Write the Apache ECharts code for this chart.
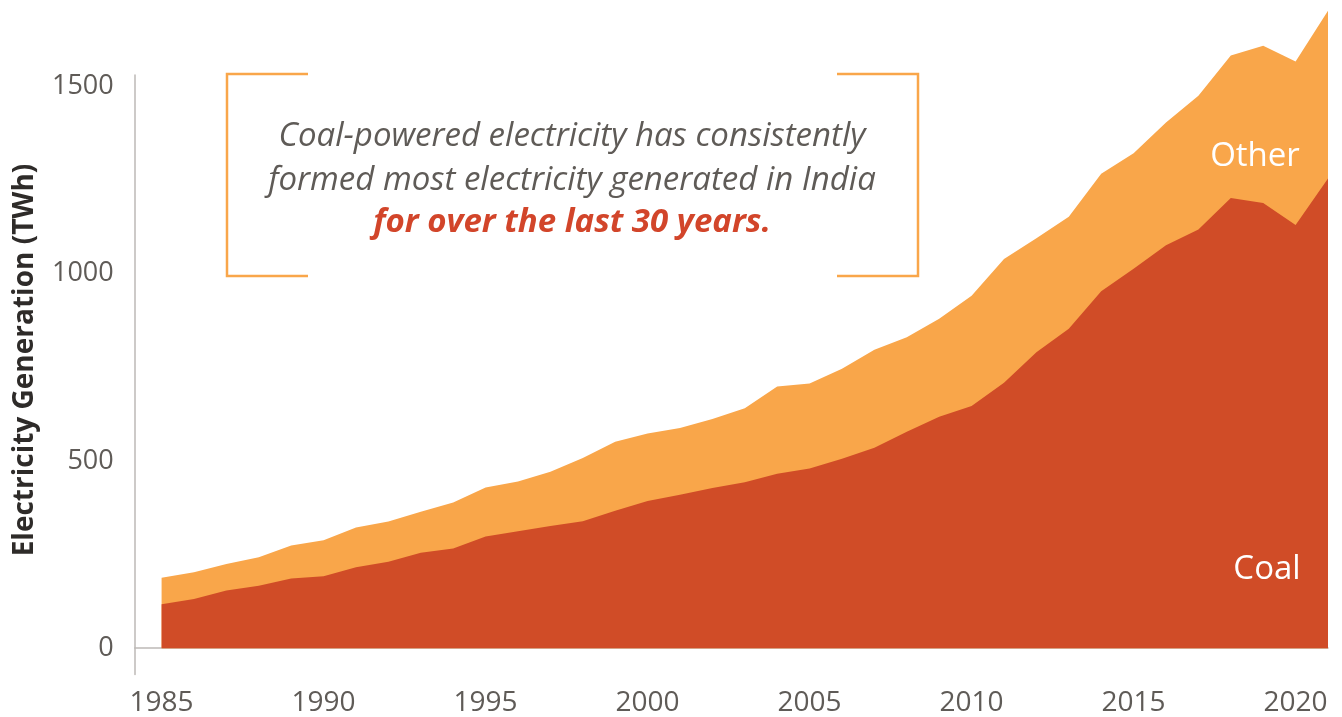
<!DOCTYPE html>
<html>
<head>
<meta charset="utf-8">
<script src="https://cdn.jsdelivr.net/npm/echarts@6/dist/echarts.min.js"></script>
<style>html,body{margin:0;padding:0;background:#fff}#c{width:1342px;height:717px}</style>
</head>
<body>
<div id="c"></div>
<script>
const years = [1985,1986,1987,1988,1989,1990,1991,1992,1993,1994,1995,1996,1997,1998,1999,2000,2001,2002,2003,2004,2005,2006,2007,2008,2009,2010,2011,2012,2013,2014,2015,2016,2017,2018,2019,2020,2021];
const coal = [117,131,154,167,186,192,216,231,255,266,298,312,326,339,367,393,410,428,443,466,480,506,535,578,618,647,709,790,853,953,1013,1076,1118,1202,1189,1130,1254];
const other = [71,72,71,76,88,96,106,107,109,123,131,133,145,169,184,180,178,184,198,233,227,240,262,252,262,294,330,305,299,314,309,328,357,381,420,437,448];
const yTicks = [0,500,1000,1500];
const xTicks = [1985,1990,1995,2000,2005,2010,2015,2020];
const seriesNames = ['Coal','Other'];
const axisTitle = 'Electricity Generation (TWh)';
const noteLines = ['Coal-powered electricity has consistently','formed most electricity generated in India','for over the last 30 years.'];

const COAL = '#D04C27', OTHER = '#F9A64A', LABEL = '#5f5b57';
const FONT = '"Open Sans"';
const chart = echarts.init(document.getElementById('c'));
// "Other" is stacked on top of coal: its top edge is coal + other
const coalPts = years.map((y,i)=>[y,coal[i]]);
const otherTopPts = years.map((y,i)=>[y,coal[i]+other[i]]);
chart.setOption({
  animation:false,
  grid:[
    {left:134.7,right:14,top:0,bottom:42.5},
    {left:134.7,right:14,top:75,bottom:42.5}
  ],
  xAxis:[
    {type:'value',gridIndex:0,min:1984.17,max:2021,
     axisLine:{show:true,lineStyle:{color:'#bdb9b6',width:1.5}},
     axisTick:{show:false},splitLine:{show:false},
     axisLabel:{customValues:xTicks,margin:15,color:LABEL,fontFamily:FONT,fontSize:28,formatter:v=>String(v)}},
    {type:'value',gridIndex:1,min:0,max:1,show:false}
  ],
  yAxis:[
    {type:'value',gridIndex:0,min:-69,max:1731,
     axisLine:{show:false},axisTick:{show:false},splitLine:{show:false},
     axisLabel:{customValues:yTicks,margin:21,color:LABEL,fontFamily:FONT,fontSize:27,formatter:v=>String(v)}},
    {type:'value',gridIndex:1,min:0,max:1,
     axisLine:{show:true,lineStyle:{color:'#bdb9b6',width:1.5}},
     axisTick:{show:false},axisLabel:{show:false},splitLine:{show:false}}
  ],
  series:[
    {name:seriesNames[1],type:'line',data:otherTopPts,showSymbol:false,
     lineStyle:{width:0},areaStyle:{color:OTHER,opacity:1},itemStyle:{color:OTHER},z:2},
    {name:seriesNames[0],type:'line',data:coalPts,showSymbol:false,
     lineStyle:{width:0},areaStyle:{color:COAL,opacity:1},itemStyle:{color:COAL},z:3}
  ],
  graphic:[
    {type:'text',x:25,y:360,rotation:Math.PI/2,style:{text:axisTitle,font:'bold 28px '+FONT,fill:'#2e2b29',align:'center',verticalAlign:'middle'}},
    {type:'polyline',shape:{points:[[308,74],[227,74],[227,276],[308,276]]},style:{stroke:OTHER,lineWidth:2.5,fill:null}},
    {type:'polyline',shape:{points:[[837,74],[918,74],[918,276],[837,276]]},style:{stroke:OTHER,lineWidth:2.5,fill:null}},
    {type:'text',x:572,y:137,style:{text:noteLines[0],font:'italic 33px '+FONT,fill:LABEL,align:'center',verticalAlign:'middle'}},
    {type:'text',x:572,y:181,style:{text:noteLines[1],font:'italic 33px '+FONT,fill:LABEL,align:'center',verticalAlign:'middle'}},
    {type:'text',x:572,y:223,style:{text:noteLines[2],font:'italic bold 33px '+FONT,fill:'#D2452A',align:'center',verticalAlign:'middle'}},
    {type:'text',x:1255,y:157,z:10,style:{text:seriesNames[1],font:'33px '+FONT,fill:'#ffffff',align:'center',verticalAlign:'middle'}},
    {type:'text',x:1267,y:570,z:10,style:{text:seriesNames[0],font:'33px '+FONT,fill:'#ffffff',align:'center',verticalAlign:'middle'}}
  ]
});
</script>
</body>
</html>
